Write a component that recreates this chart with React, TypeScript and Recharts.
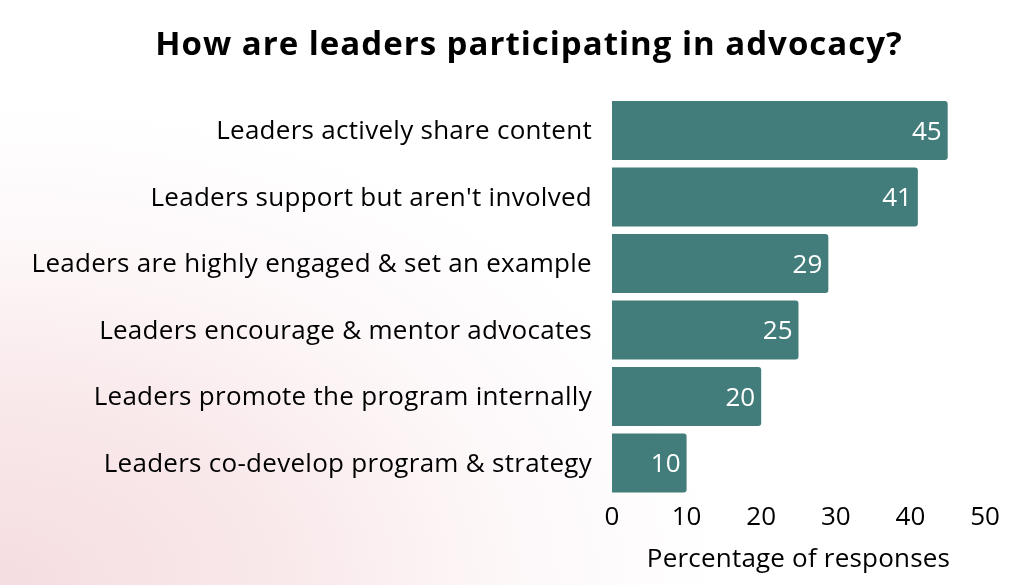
import React from "react";
import { BarChart, Bar, XAxis, YAxis, LabelList, Label } from "recharts";

const categories = [
  "Leaders actively share content",
  "Leaders support but aren't involved",
  "Leaders are highly engaged & set an example",
  "Leaders encourage & mentor advocates",
  "Leaders promote the program internally",
  "Leaders co-develop program & strategy",
];
const values = [45, 41, 29, 25, 20, 10];
const xTicks = [0, 10, 20, 30, 40, 50];

const data = categories.map((c, i) => ({ name: c, value: values[i] }));

const FONT = "'Open Sans', sans-serif";

export default function App() {
  return (
    <div
      style={{
        position: "fixed",
        left: 0,
        top: 0,
        width: 1024,
        height: 585,
        overflow: "hidden",
        fontFamily: FONT,
        background:
          "radial-gradient(ellipse 720px 480px at 0% 100%, #f5dde1 0%, #f9e9eb 40%, #fdf7f8 70%, #ffffff 100%)",
      }}
    >
      <div
        style={{
          position: "absolute",
          left: 0,
          width: 1058,
          top: 21,
          textAlign: "center",
          fontSize: 33,
          fontWeight: 700,
          letterSpacing: 1,
          color: "#000",
          lineHeight: "44px",
        }}
      >
        How are leaders participating in advocacy?
      </div>
      <BarChart
        width={1024}
        height={585}
        data={data}
        layout="vertical"
        margin={{ top: 97, right: 39, bottom: 0, left: 0 }}
        style={{ position: "absolute", left: 0, top: 0 }}
      >
        <XAxis
          type="number"
          domain={[0, 50]}
          ticks={xTicks}
          tickLine={false}
          axisLine={false}
          tickSize={0}
          tickMargin={11}
          height={89}
          tick={{ fill: "#000", fontSize: 26, fontFamily: FONT }}
        >
          <Label
            value="Percentage of responses"
            position="insideBottom"
            offset={18}
            style={{ fill: "#000", fontSize: 26, fontFamily: FONT, letterSpacing: 0.2 }}
          />
        </XAxis>
        <YAxis
          type="category"
          dataKey="name"
          width={612}
          tickLine={false}
          axisLine={false}
          tickSize={0}
          tickMargin={20}
          interval={0}
          tick={{ fill: "#000", fontSize: 26, fontFamily: FONT, letterSpacing: 0.28 }}
        />
        <Bar
          dataKey="value"
          fill="#437d7b"
          barSize={59}
          radius={[0, 3, 3, 0]}
          isAnimationActive={false}
        >
          <LabelList
            dataKey="value"
            position="insideRight"
            offset={6}
            style={{ fill: "#ffffff", fontSize: 26, fontFamily: FONT }}
          />
        </Bar>
      </BarChart>
    </div>
  );
}
